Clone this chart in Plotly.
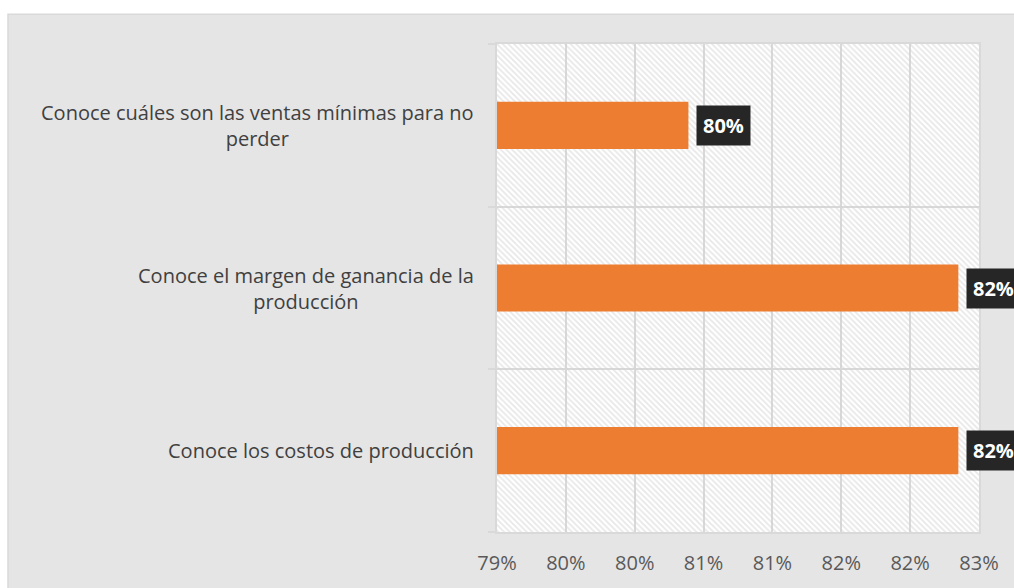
import plotly.graph_objects as go

# datos (de abajo hacia arriba, como en Excel)
categorias = [
    "Conoce los costos de producción",
    "Conoce el margen de ganancia de la<br>producción",
    "Conoce cuáles son las ventas mínimas para no<br>perder",
]
valores = [0.8235, 0.8235, 0.8039]
etiquetas = ["82%", "82%", "80%"]

eje_min, eje_max = 0.79, 0.825
tick_vals = [0.79, 0.795, 0.80, 0.805, 0.81, 0.815, 0.82, 0.825]
tick_text = ["79%", "80%", "80%", "81%", "81%", "82%", "82%", "83%"]

NARANJA = "#ED7D31"
GRIS_FONDO = "#e5e5e5"
GRIS_LINEA = "#d9d9d9"
FUENTE = "Open Sans"

# area de trazado en px
PX_L, PX_R, PX_T, PX_B = 497, 979, 44, 536

fig = go.Figure()

# fondo rayado del area de trazado
fig.add_trace(go.Bar(
    y=categorias,
    x=[eje_max - eje_min] * len(categorias),
    base=eje_min,
    orientation="h",
    width=1,
    marker=dict(
        color="rgba(0,0,0,0)",
        line=dict(width=0),
        pattern=dict(shape="\\", fgcolor="#d0d0d0", bgcolor="rgba(0,0,0,0)",
                     size=4, solidity=0.45),
    ),
    hoverinfo="skip",
    showlegend=False,
))

# barras
fig.add_trace(go.Bar(
    y=categorias,
    x=[v - eje_min for v in valores],
    base=eje_min,
    orientation="h",
    width=0.29,
    marker=dict(color=NARANJA, line=dict(width=0)),
    showlegend=False,
))

# etiquetas de datos en cajas negras
for cat, val, txt in zip(categorias, valores, etiquetas):
    fig.add_annotation(
        x=val, y=cat, text="<b>" + txt + "</b>",
        xanchor="left", yanchor="middle", xshift=8,
        showarrow=False, bgcolor="#262626", borderpad=6,
        font=dict(family=FUENTE, size=20, color="white"),
    )

# etiquetas de categoria centradas
for cat in categorias:
    fig.add_annotation(
        x=0, xref="paper", y=cat, text=cat,
        xanchor="right", yanchor="middle", xshift=-21,
        align="center", showarrow=False,
        font=dict(family=FUENTE, size=20, color="#404040"),
    )

# marco del area del grafico (blanco arriba e izquierda, borde gris)
ancho, alto = PX_R - PX_L, PX_B - PX_T
borde_x = (8 - PX_L) / ancho
borde_y = (PX_B - 14) / alto
fig.add_shape(type="rect", xref="paper", yref="paper",
              x0=-1.1, x1=1.2, y0=borde_y, y1=1.2,
              fillcolor="white", line=dict(width=0), layer="below")
fig.add_shape(type="rect", xref="paper", yref="paper",
              x0=-1.1, x1=borde_x, y0=-0.3, y1=1.2,
              fillcolor="white", line=dict(width=0), layer="below")
fig.add_shape(type="rect", xref="paper", yref="paper",
              x0=borde_x, x1=1.2, y0=-0.3, y1=borde_y,
              fillcolor="rgba(0,0,0,0)", line=dict(width=1.5, color=GRIS_LINEA),
              layer="below")

fig.update_layout(
    width=1014, height=588,
    margin=dict(l=PX_L, r=1014 - PX_R, t=PX_T, b=588 - PX_B),
    paper_bgcolor=GRIS_FONDO,
    plot_bgcolor="white",
    barmode="overlay",
    xaxis=dict(
        range=[eje_min, eje_max],
        tickvals=tick_vals, ticktext=tick_text,
        showgrid=True, gridcolor=GRIS_LINEA, gridwidth=1.5,
        zeroline=False, showline=True, mirror=True,
        linecolor=GRIS_LINEA, linewidth=1.5,
        ticks="", ticklabelstandoff=12,
        tickfont=dict(family=FUENTE, size=20, color="#595959"),
    ),
    yaxis=dict(
        type="category", range=[-0.5, 2.5],
        tickson="boundaries", ticks="outside", ticklen=7,
        tickcolor=GRIS_LINEA, tickwidth=1.5,
        showgrid=True, gridcolor=GRIS_LINEA, gridwidth=1.5,
        showline=True, mirror=True, linecolor=GRIS_LINEA, linewidth=1.5,
        showticklabels=False,
    ),
)

# sin margen en la pagina para que la figura ocupe toda la ventana
fig.write_html("out.html",
               config={"displayModeBar": False},
               post_script="document.body.style.margin='0';document.body.style.overflow='hidden';")
